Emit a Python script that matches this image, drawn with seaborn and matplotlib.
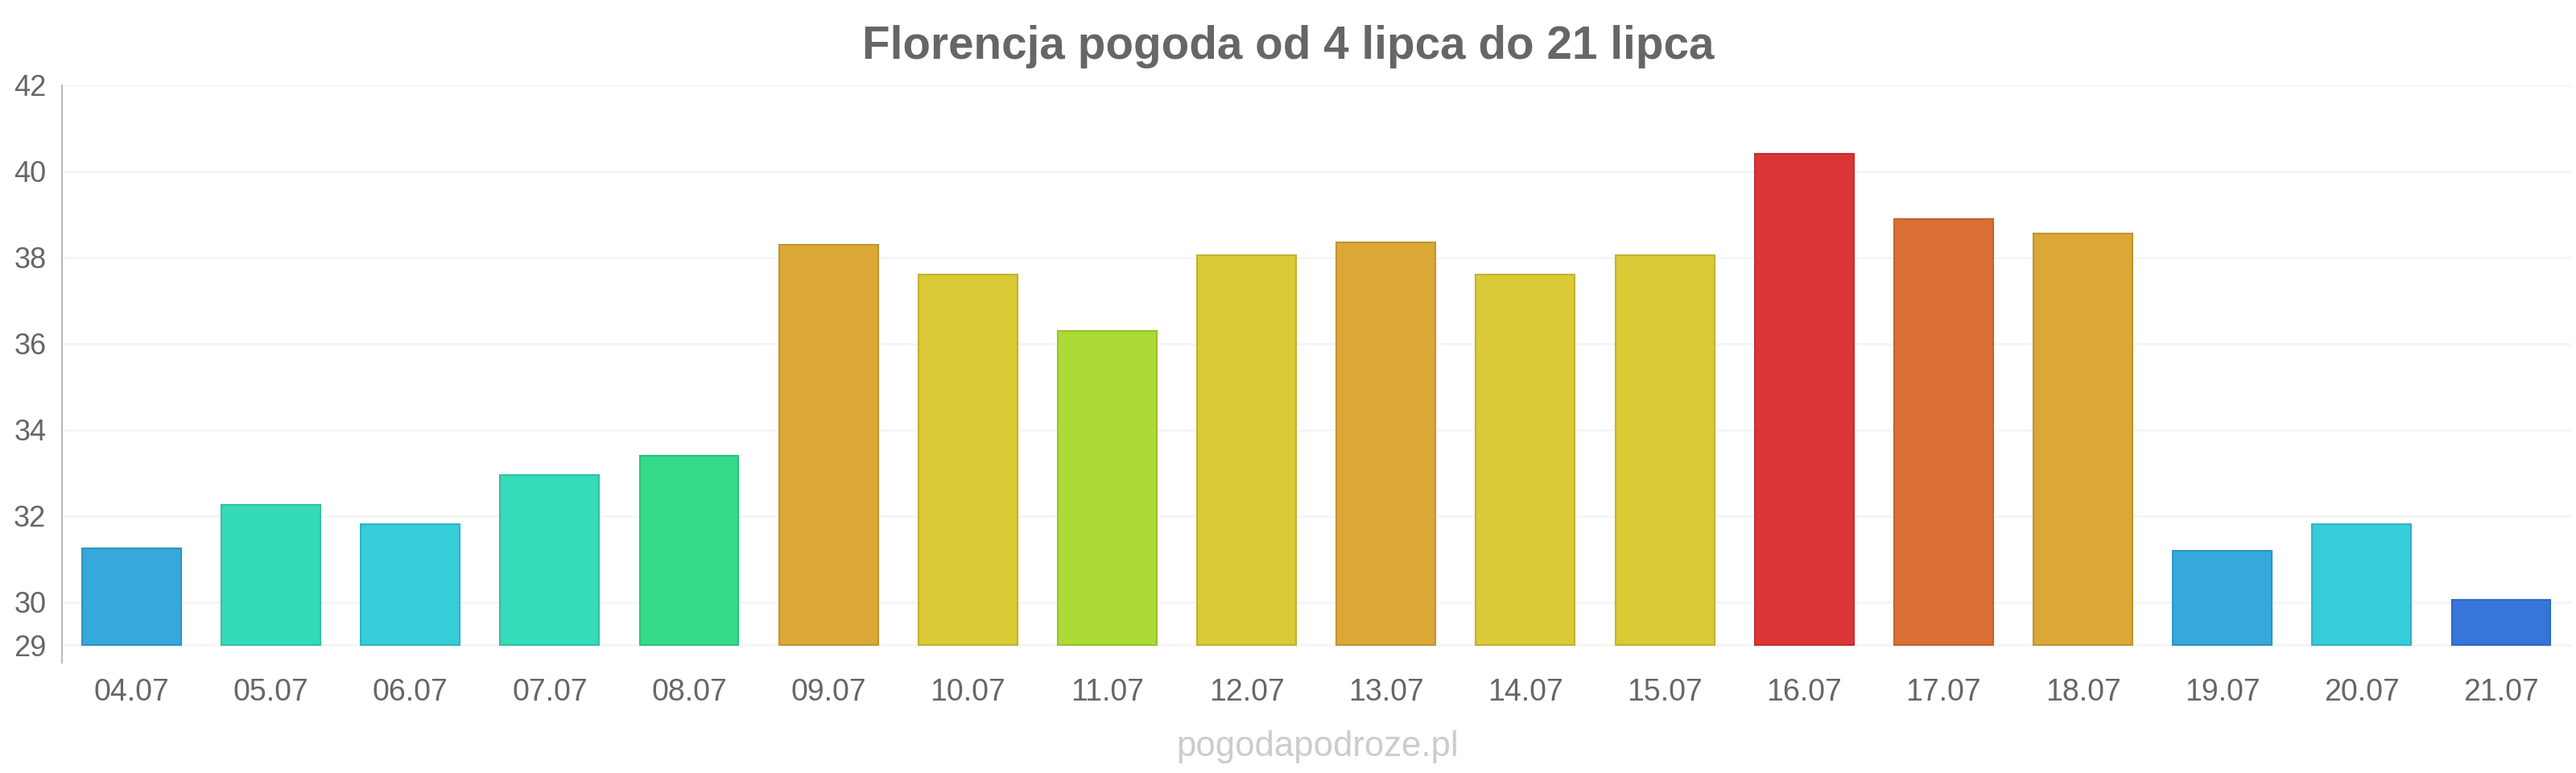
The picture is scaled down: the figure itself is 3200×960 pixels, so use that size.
import matplotlib
matplotlib.use("Agg")
import matplotlib.pyplot as plt
from matplotlib.colors import to_rgb
import numpy as np
import seaborn as sns

# ------------------------------------------------------------------------------ #
# data
# ------------------------------------------------------------------------------ #

dates = ["04.07", "05.07", "06.07", "07.07", "08.07", "09.07", "10.07", "11.07",
         "12.07", "13.07", "14.07", "15.07", "16.07", "17.07", "18.07", "19.07",
         "20.07", "21.07"]
temps = [31.25, 32.25, 31.8, 32.95, 33.4, 38.3, 37.6, 36.3, 38.05, 38.35, 37.6,
         38.05, 40.4, 38.9, 38.55, 31.2, 31.8, 30.05]
colors = ["#36A8DB", "#35DBB9", "#36CDDB", "#36DBB9", "#36DB8A", "#DBA836",
          "#DBCA36", "#ADDB36", "#DBCA36", "#DBA836", "#DBCA36", "#DBCA36",
          "#DB3636", "#DB7036", "#DBA836", "#36A8DB", "#36CDDB", "#3676DB"]
y_ticks = [29, 30, 32, 34, 36, 38, 40, 42]
base = 29

title = "Florencja pogoda od 4 lipca do 21 lipca"
watermark = "pogodapodroze.pl"

# ------------------------------------------------------------------------------ #
# plot
# ------------------------------------------------------------------------------ #

sns.set_style("white")
plt.rcParams["font.family"] = ["Liberation Sans", "DejaVu Sans"]

fig = plt.figure(figsize=(32, 9.6), dpi=100)
ax = fig.add_axes([0.024, 0.143, 0.974, 0.747])

sns.barplot(
    x=dates, y=temps, hue=dates, palette=colors, legend=False,
    width=0.71, ax=ax, saturation=1, zorder=3,
)

# bars start at the axis baseline, not at zero
for p, c in zip(ax.patches, colors):
    p.set_y(base)
    p.set_height(p.get_height() - base)
    p.set_edgecolor(tuple(v * 0.88 for v in to_rgb(c)))
    p.set_linewidth(1.5)

ax.set_xlim(-0.5, len(dates) - 0.5)
ax.set_ylim(28.6, 42)
ax.set_yticks(y_ticks)
ax.yaxis.grid(True, color="#f5f5f5", linewidth=2, zorder=0)
ax.set_axisbelow(True)

for s in ["top", "right", "bottom"]:
    ax.spines[s].set_visible(False)
ax.spines["left"].set_color("#bbbbbb")
ax.spines["left"].set_linewidth(1.5)

ax.tick_params(axis="y", length=0, pad=14, labelsize=26, labelcolor="#666666")
ax.tick_params(axis="x", length=0, pad=14, labelsize=27, labelcolor="#666666")
ax.set_xlabel("")
ax.set_ylabel("")

fig.text(0.5, 0.94, title, ha="center", va="center", fontsize=40.8,
         fontweight="bold", color="#666666")
fig.text(0.5115, 0.034, watermark, ha="center", va="center", fontsize=31.4,
         color="#cccccc")

fig.savefig("out.png", dpi=100)
